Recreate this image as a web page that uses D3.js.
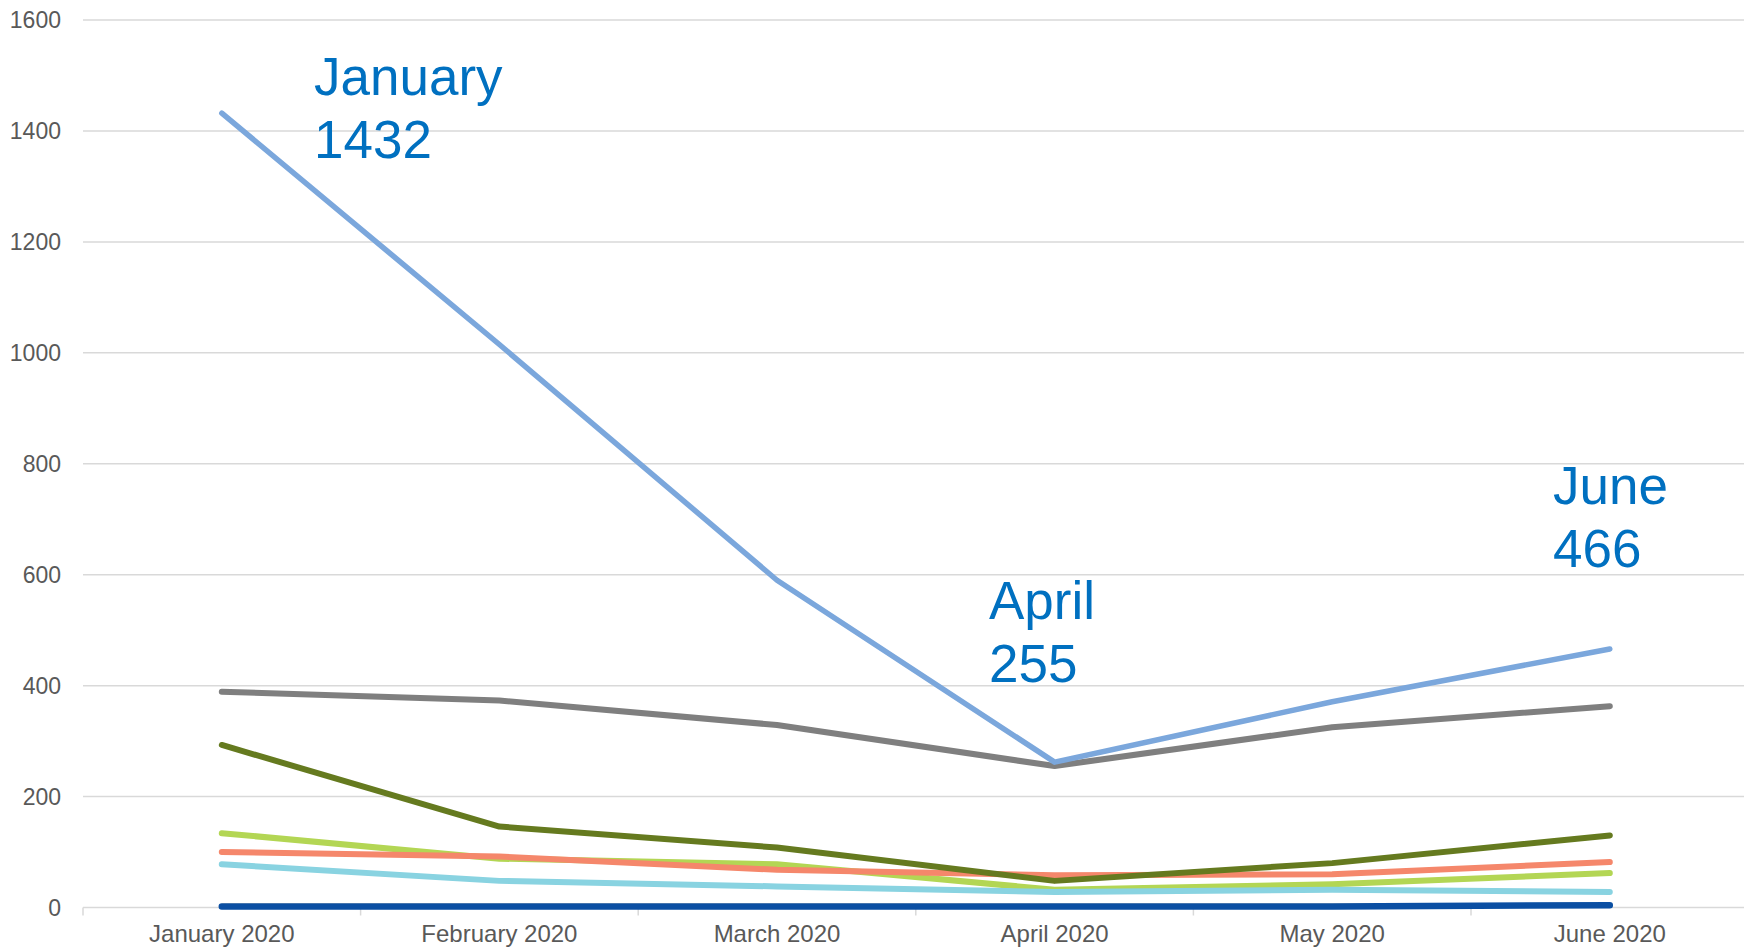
<!DOCTYPE html>
<html>
<head>
<meta charset="utf-8">
<script src="https://cdn.jsdelivr.net/npm/d3@7"></script>
<style>
  body { margin: 0; background: #fff; overflow: hidden; }
  text { font-family: "Liberation Sans", Arial, sans-serif; }
</style>
</head>
<body>
<div class="chartContainer"></div>
<script>
const months = ["January 2020","February 2020","March 2020","April 2020","May 2020","June 2020"]
const yTicks = [0,200,400,600,800,1000,1200,1400,1600]

const lightGreen = [134,88,78,32,42,62]
const cyan = [78,48,38,28,32,28]
const salmon = [100,92,68,58,60,82]
const olive = [293,146,108,48,80,130]
const gray = [389,373,329,255,325,363]
const blue = [1432,1015,590,262,371,466]
const orange = [4,4,4,4,4,6]
const navy = [2,2,2,2,2,4]

const notes = [
  {month:"January 2020", lines:["January","1432"]},
  {month:"April 2020", lines:["April","255"]},
  {month:"June 2020", lines:["June","466"]}
]

document.addEventListener("DOMContentLoaded", ()=>{
    const W = 1744, H = 949
    let svg = d3.select(".chartContainer").append("svg")
        .attr("width", W).attr("height", H)

    const x = d3.scaleBand().domain(months).range([83, 1748.6])
    const y = d3.scaleLinear().domain([0,1600]).range([907.5, 20])
    const cx = m => x(m) + x.bandwidth()/2

    // gridlines
    svg.append("g").selectAll("line")
       .data(yTicks)
       .enter()
       .append("line")
       .attr("x1", 83).attr("x2", W)
       .attr("y1", d=>y(d)).attr("y2", d=>y(d))
       .attr("stroke", "#d9d9d9")
       .attr("stroke-width", 1.5)

    // y axis labels
    svg.append("g").selectAll("text")
       .data(yTicks)
       .enter()
       .append("text")
       .attr("x", 61)
       .attr("y", d=>y(d))
       .attr("dy", "0.35em")
       .attr("text-anchor", "end")
       .attr("font-size", 23)
       .attr("fill", "#595959")
       .text(d=>d)

    // x axis with category boundary ticks
    const xAxis = d3.axisBottom(x).tickSize(0).tickPadding(17)
    let gx = svg.append("g").attr("transform", `translate(0,${y(0)})`).call(xAxis)
    gx.select(".domain").remove()
    gx.selectAll("text")
      .attr("font-size", 24)
      .attr("fill", "#595959")
      .attr("font-family", "Liberation Sans, Arial, sans-serif")
    const bounds = months.map(m=>x(m))
    svg.append("g").selectAll("line")
       .data(bounds)
       .enter()
       .append("line")
       .attr("x1", d=>d).attr("x2", d=>d)
       .attr("y1", y(0)).attr("y2", y(0)+8)
       .attr("stroke", "#d9d9d9")
       .attr("stroke-width", 1.5)

    const series = [
      {values: lightGreen, color: "#b3d654", w: 6},
      {values: cyan, color: "#89d3e1", w: 6},
      {values: salmon, color: "#f5876b", w: 6},
      {values: olive, color: "#657a1f", w: 6},
      {values: gray, color: "#7f7f7f", w: 6},
      {values: blue, color: "#7ba7dc", w: 5.5},
      {values: orange, color: "#f4b63f", w: 3},
      {values: navy, color: "#0b4fa3", w: 6.5}
    ]

    const line = d3.line()
        .x((d,i)=>cx(months[i]))
        .y(d=>y(d))

    svg.append("g").selectAll("path")
       .data(series)
       .enter()
       .append("path")
       .attr("d", d=>line(d.values))
       .attr("fill", "none")
       .attr("stroke", d=>d.color)
       .attr("stroke-width", d=>d.w)
       .attr("stroke-linecap", "round")
       .attr("stroke-linejoin", "round")

    // annotations
    const notePos = {"January 2020":[314,95], "April 2020":[989,619], "June 2020":[1553,504]}
    let ann = svg.append("g").selectAll("text")
       .data(notes)
       .enter()
       .append("text")
       .attr("x", d=>notePos[d.month][0])
       .attr("y", d=>notePos[d.month][1])
       .attr("font-size", 53)
       .attr("fill", "#0070c0")
    ann.selectAll("tspan")
       .data(d=>d.lines.map(t=>({t, x:notePos[d.month][0]})))
       .enter()
       .append("tspan")
       .attr("x", d=>d.x)
       .attr("dy", (d,i)=> i ? 63 : 0)
       .text(d=>d.t)
})
</script>
</body>
</html>
